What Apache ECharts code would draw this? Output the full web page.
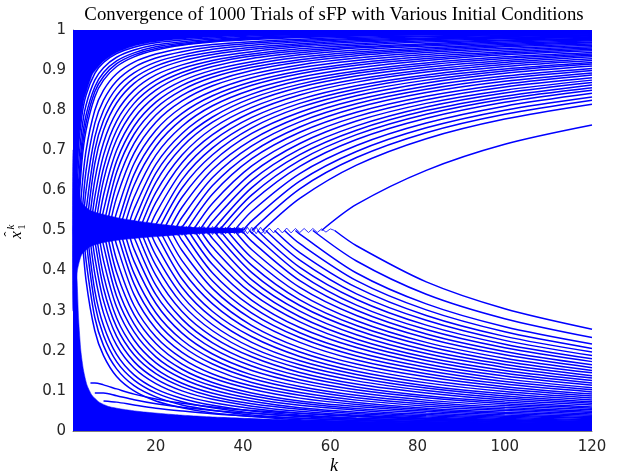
<!DOCTYPE html>
<html><head><meta charset="utf-8">
<script src="https://cdn.jsdelivr.net/npm/echarts@6/dist/echarts.min.js"></script>
<style>html,body{margin:0;padding:0;background:#fff}#c{width:622px;height:476px}</style>
</head><body><div id="c"></div>
<script>
// ---- axis ticks ----
const xTicks = [20, 40, 60, 80, 100, 120];
const yTicks = ['0','0.1','0.2','0.3','0.4','0.5','0.6','0.7','0.8','0.9','1'];

// ---- common k grid used by the fanning trajectories ----
const K = [2,3,4,6,8,11,15,20,26,33,42,53,66,82,100,120];

// upper fan: departure k from 0.5, then values at the last grid points of K
const upperStart = [1.3,1.5,1.7,1.85,2,2.4,2.8,3.2,3.6,4,4.5,5,5.5,6,6.6,7.2,7.8,8.5,9.2,10,10.8,11.6,12.5,13.4,14.3,15.2,16.2,17.2,18.3,19.4,20.5,21.7,23,24.3,25.6,27,28.5,30,31.5,33,34.5,36,38,40,42,44.5,58];
const upperVals = [
[.675,.783,.838,.892,.919,.941,.957,.968,.975,.980,.985,.988,.990,.992,.994,.995],
[.625,.75,.813,.875,.906,.932,.95,.963,.971,.977,.982,.986,.989,.991,.993,.994],
[.575,.717,.788,.858,.894,.923,.943,.958,.967,.974,.980,.984,.987,.990,.992,.993],
[.538,.692,.769,.846,.884,.916,.938,.954,.964,.972,.978,.983,.986,.989,.991,.992],
[.667,.75,.833,.875,.909,.933,.95,.962,.970,.976,.981,.985,.988,.99,.992],
[.6,.7,.8,.85,.891,.92,.94,.954,.964,.971,.977,.982,.985,.988,.99],
[.533,.65,.767,.825,.873,.907,.93,.946,.958,.967,.974,.979,.983,.986,.988],
[.6,.733,.8,.855,.893,.92,.938,.952,.962,.970,.976,.980,.984,.987],
[.55,.7,.775,.836,.88,.91,.931,.945,.957,.966,.973,.978,.982,.985],
[.667,.75,.818,.867,.9,.923,.939,.952,.962,.970,.976,.98,.983],
[.625,.719,.795,.85,.888,.913,.932,.946,.958,.966,.973,.978,.981],
[.583,.688,.773,.833,.875,.904,.924,.940,.953,.962,.970,.975,.979],
[.542,.656,.75,.817,.863,.894,.917,.935,.948,.958,.966,.973,.977],
[.625,.727,.8,.85,.885,.909,.929,.943,.955,.963,.97,.975],
[.588,.7,.78,.835,.873,.9,.921,.938,.95,.960,.967,.973],
[.55,.673,.76,.82,.862,.891,.914,.932,.945,.956,.964,.97],
[.513,.645,.74,.805,.85,.882,.907,.926,.941,.952,.961,.968],
[.614,.717,.788,.837,.871,.899,.920,.936,.948,.958,.965],
[.582,.693,.77,.823,.861,.890,.913,.930,.944,.954,.962],
[.545,.667,.75,.808,.848,.881,.906,.924,.939,.95,.958],
[.509,.64,.73,.792,.836,.871,.898,.918,.934,.946,.955],
[.613,.71,.777,.824,.862,.891,.912,.929,.942,.952],
[.583,.688,.76,.811,.851,.882,.905,.924,.938,.948],
[.553,.665,.742,.797,.840,.874,.898,.918,.933,.944],
[.523,.643,.725,.783,.830,.865,.892,.913,.929,.940],
[.62,.708,.770,.819,.857,.885,.907,.924,.937],
[.595,.688,.755,.807,.847,.877,.901,.919,.933],
[.57,.669,.739,.795,.838,.870,.895,.914,.928],
[.543,.648,.723,.782,.827,.861,.888,.909,.924],
[.515,.627,.706,.769,.817,.853,.882,.903,.919],
[.606,.689,.756,.807,.845,.875,.898,.915],
[.583,.671,.742,.795,.836,.868,.892,.910],
[.558,.652,.726,.783,.826,.860,.885,.904],
[.533,.632,.711,.771,.816,.852,.879,.899],
[.508,.612,.695,.758,.806,.844,.872,.893],
[.591,.679,.745,.795,.835,.865,.888],
[.568,.661,.731,.784,.826,.858,.881],
[.545,.643,.717,.773,.817,.85,.875],
[.523,.625,.703,.761,.808,.843,.869],
[.607,.689,.75,.799,.835,.863],
[.589,.675,.739,.790,.828,.856],
[.571,.660,.727,.780,.82,.85],
[.548,.642,.712,.768,.81,.842],
[.524,.623,.697,.756,.8,.833],
[.604,.682,.744,.79,.825],
[.580,.663,.729,.778,.815],
[.565,.65,.715,.763]
];

// lower fan
const lowerStart = [3,3.4,3.8,4.2,4.7,5.2,5.7,6.2,6.8,7.4,8,8.7,9.4,10.2,11,11.8,12.7,13.6,14.5,15.5,16.5,17.5,18.6,19.7,20.9,22.1,23.4,24.7,26,27.4,28.8,30.2,31.7,33.2,34.7,36.3,38,39.7,41.5,43.3,45.2,47.2,49.5,52,56,61];
const lowerVals = [
[.375,.25,.188,.136,.1,.075,.058,.045,.036,.028,.023,.018,.015,.0125],
[.425,.283,.213,.155,.113,.085,.065,.052,.040,.032,.026,.021,.017,.014],
[.475,.317,.238,.173,.127,.095,.073,.058,.045,.036,.029,.023,.019,.016],
[.35,.263,.191,.14,.105,.081,.064,.05,.040,.032,.026,.021,.0175],
[.392,.294,.214,.157,.118,.090,.071,.056,.044,.036,.029,.0235,.0196],
[.433,.325,.236,.173,.13,.1,.079,.062,.049,.039,.032,.026,.0217],
[.475,.356,.259,.19,.143,.110,.086,.068,.054,.043,.035,.0285,.024],
[.388,.282,.207,.155,.119,.094,.074,.058,.047,.038,.031,.026],
[.425,.309,.227,.17,.131,.103,.081,.064,.052,.041,.034,.028],
[.463,.336,.247,.185,.142,.112,.088,.070,.056,.045,.037,.031],
[.364,.267,.2,.154,.121,.095,.075,.061,.049,.04,.033],
[.395,.29,.218,.167,.132,.104,.082,.066,.053,.0435,.036],
[.427,.313,.235,.181,.142,.112,.089,.071,.057,.047,.039],
[.464,.34,.255,.196,.155,.121,.096,.077,.062,.051,.0425],
[.367,.275,.212,.167,.131,.104,.083,.067,.055,.046],
[.393,.295,.227,.179,.140,.111,.089,.072,.059,.049],
[.423,.318,.244,.192,.151,.120,.096,.077,.0635,.053],
[.453,.34,.262,.206,.162,.128,.103,.083,.068,.057],
[.483,.363,.279,.220,.173,.137,.110,.088,.0725,.060],
[.388,.298,.235,.185,.146,.117,.095,.0775,.065],
[.413,.317,.25,.196,.156,.125,.101,.0825,.069],
[.438,.337,.265,.208,.165,.133,.107,.0875,.073],
[.465,.358,.282,.221,.175,.141,.113,.093,.0775],
[.493,.379,.298,.235,.186,.149,.120,.0985,.082],
[.402,.317,.249,.197,.158,.127,.1045,.087],
[.425,.335,.263,.208,.167,.135,.1105,.092],
[.45,.355,.279,.221,.177,.143,.117,.0975],
[.475,.374,.294,.233,.187,.151,.1235,.103],
[.394,.31,.245,.197,.159,.13,.108],
[.415,.326,.258,.208,.167,.137,.114],
[.436,.343,.272,.218,.176,.144,.12],
[.458,.360,.285,.229,.184,.151,.126],
[.480,.377,.299,.240,.193,.1585,.132],
[.395,.313,.252,.202,.166,.138],
[.413,.327,.263,.212,.1735,.145],
[.432,.342,.275,.221,.1815,.151],
[.452,.358,.288,.232,.19,.158],
[.473,.375,.301,.242,.1985,.165],
[.494,.392,.314,.253,.2075,.173],
[.408,.328,.264,.2165,.180],
[.426,.342,.276,.226,.188],
[.445,.358,.288,.236,.197],
[.467,.375,.302,.2475,.206],
[.491,.394,.317,.26,.217],
[.424,.341,.28,.233],
[.462,.372,.305,.254]
];
// lower trials that leave the extreme band rather than 0.5
const lowEdgeStart    = [5, 6, 8];
const lowEdgeStartVal = [.12, .095, .075];
const lowEdgeVals = [
[.12,.115,.105,.092,.08,.069,.06,.051,.044,.037,.031,.027,.023],
[.095,.088,.078,.068,.059,.051,.044,.038,.032,.027,.023,.02],
[.072,.065,.057,.05,.043,.037,.032,.027,.023,.019,.016]
];

// dense bands of trajectories with extreme initial conditions
const topK   = [1,1.5,2,2.5,3,3.5,4.5,5.5,6.6,8,10,12,15,18,23.5,30,40,55,75,95,120];
const topLow = [.5,.56,.656,.74,.79,.825,.86,.89,.905,.922,.937,.948,.96,.967,.975,.98,.985,.988,.99,.991,.992];
const botK    = [1,1.5,1.9,2.3,2.8,3.4,4.2,5.3,7,9.2,12,16.8,25.3,35,50,70,95,120];
const botHigh = [.5,.45,.385,.277,.2,.152,.115,.09,.072,.061,.055,.048,.04,.034,.028,.023,.019,.016];
// central bundle still near 0.5
const spK    = [1,2,3,5,8,12,18,24,30,36];
const spLow  = [.30,.40,.44,.46,.47,.477,.483,.488,.493,.498];
const spHigh = [.70,.62,.57,.55,.54,.53,.52,.512,.506,.501];
// core trials sitting on 0.5 before they leave
const coreK = [1,4,8,12,16,20,25,30,35,40];
const coreA = [.494,.494,.494,.494,.494,.494,.495,.496,.497,.498];
const coreB = [.5,.5,.5,.5,.5,.5,.5,.5,.5,.5];
const coreC = [.506,.506,.506,.506,.506,.506,.505,.504,.503,.502];
// zig-zag of the last undecided trials
const zigK1 = [16,17,18,19,20,21,22,23,24,25,26,27,28,29,30,31,32,33,34,35,36,37,38,39,40,41,42,43,44,45,46,47,48,49,50,51,52,53,54,55,56,57,58,59,60,61];
const zig1  = [.512,.488,.512,.488,.512,.488,.512,.488,.512,.488,.512,.49,.51,.49,.51,.49,.51,.49,.51,.49,.508,.492,.508,.492,.508,.492,.508,.492,.508,.492,.506,.494,.506,.494,.506,.494,.505,.495,.505,.495,.505,.495,.504,.496,.504,.5];
const zigK2 = [16,17,18,19,20,21,22,23,24,25,26,27,28,29,30,31,32,33,34,35,36,37,38,39,40,41,42,43,44,45];
const zig2  = [.488,.512,.488,.512,.488,.512,.488,.512,.488,.512,.488,.51,.49,.51,.49,.51,.49,.51,.49,.51,.492,.508,.492,.508,.492,.508,.492,.508,.492,.5];

const BLUE = '#0000ff';
const LW = 1.5;
const series = [];
function area(ks, vals, origin) {
  series.push({type:'line', data: ks.map((k,i)=>[k, vals[i]]), symbol:'none', silent:true,
    smooth:0.2, lineStyle:{width:0.5, color:BLUE},
    areaStyle:{color:BLUE, opacity:1, origin:origin}, z:2});
}
area(topK, topLow, 'end');
area(botK, botHigh, 'start');

function fan(starts, startVals, vals) {
  starts.forEach((k0, i) => {
    const v = vals[i], n = v.length;
    const d = [[k0, startVals ? startVals[i] : 0.5]];
    v.forEach((y, j) => d.push([K[K.length - n + j], y]));
    series.push({type:'line', data:d, symbol:'none', silent:true, smooth:0.3,
                 lineStyle:{width:LW, color:BLUE}, z:3});
  });
}
fan(upperStart, null, upperVals);
fan(lowerStart, null, lowerVals);
fan(lowEdgeStart, lowEdgeStartVal, lowEdgeVals);
// central bundle as one polygon through the axis scales
series.push({type:'custom', silent:true, z:5, clip:false,
  data: spK.map((k,i)=>[k, spLow[i], spHigh[i]]),
  encode:{x:0, y:[1,2]},
  renderItem:(params, api) => {
    if (params.dataIndex !== 0) return null;
    const pts = spK.map((k,i)=>api.coord([k, spHigh[i]]));
    for (let i = spK.length - 1; i >= 0; i--) pts.push(api.coord([spK[i], spLow[i]]));
    return {type:'polygon', shape:{points:pts, smooth:0.2}, style:{fill:BLUE, stroke:BLUE, lineWidth:0.5}};
  }});
[coreA, coreB, coreC].forEach(arr => {
  series.push({type:'line', data: coreK.map((k,i)=>[k, arr[i]]), symbol:'none', silent:true,
               lineStyle:{width:3, color:BLUE}, z:7});
});
series.push({type:'line', data: zigK1.map((k,i)=>[k, zig1[i]]), symbol:'none', silent:true, lineStyle:{width:0.8,color:BLUE}, z:8});
series.push({type:'line', data: zigK2.map((k,i)=>[k, zig2[i]]), symbol:'none', silent:true, lineStyle:{width:0.8,color:BLUE}, z:8});

const AX = '#262626';
const chart = echarts.init(document.getElementById('c'));
chart.setOption({
  animation:false,
  backgroundColor:'#fff',
  grid:{left:73, right:30, top:30, bottom:45},
  xAxis:{type:'value', min:1, max:120,
    axisLine:{show:true, onZero:false, lineStyle:{color:AX, width:0.6}},
    axisTick:{show:false}, splitLine:{show:false},
    axisLabel:{customValues:xTicks, color:AX, fontSize:15, fontFamily:'DejaVu Sans', margin:9}},
  yAxis:{type:'value', min:0, max:1, interval:0.1,
    axisLine:{show:true, onZero:false, lineStyle:{color:AX, width:0.6}},
    axisTick:{show:false}, splitLine:{show:false},
    axisLabel:{color:AX, fontSize:15, fontFamily:'DejaVu Sans', margin:7,
      formatter:(v)=>yTicks[Math.round(v*10)]}},
  series: series,
  graphic:[
    {type:'text', x:334, y:15, z:10, style:{text:'Convergence of 1000 Trials of sFP with Various Initial Conditions',
      fontFamily:'Liberation Serif', fontSize:18.8, fill:'#000', align:'center', verticalAlign:'middle'}},
    {type:'text', x:334, y:466, z:10, style:{text:'k', fontFamily:'Liberation Serif', fontStyle:'italic', fontSize:18, fill:'#000', align:'center', verticalAlign:'middle'}},
    {type:'group', x:17, y:231, rotation:Math.PI/2, z:10, children:[
      {type:'text', x:-4, y:0, style:{text:'x', fontFamily:'Liberation Serif', fontStyle:'italic', fontSize:17, fill:'#000', align:'center', verticalAlign:'middle'}},
      {type:'text', x:-3, y:-7, style:{text:'\u02C6', fontFamily:'Liberation Serif', fontSize:15, fill:'#000', align:'center', verticalAlign:'middle'}},
      {type:'text', x:4, y:-6, style:{text:'k', fontFamily:'Liberation Serif', fontStyle:'italic', fontSize:11, fill:'#000', align:'center', verticalAlign:'middle'}},
      {type:'text', x:4, y:5, style:{text:'1', fontFamily:'Liberation Serif', fontSize:11, fill:'#000', align:'center', verticalAlign:'middle'}}
    ]}
  ]
});
</script>
</body></html>
